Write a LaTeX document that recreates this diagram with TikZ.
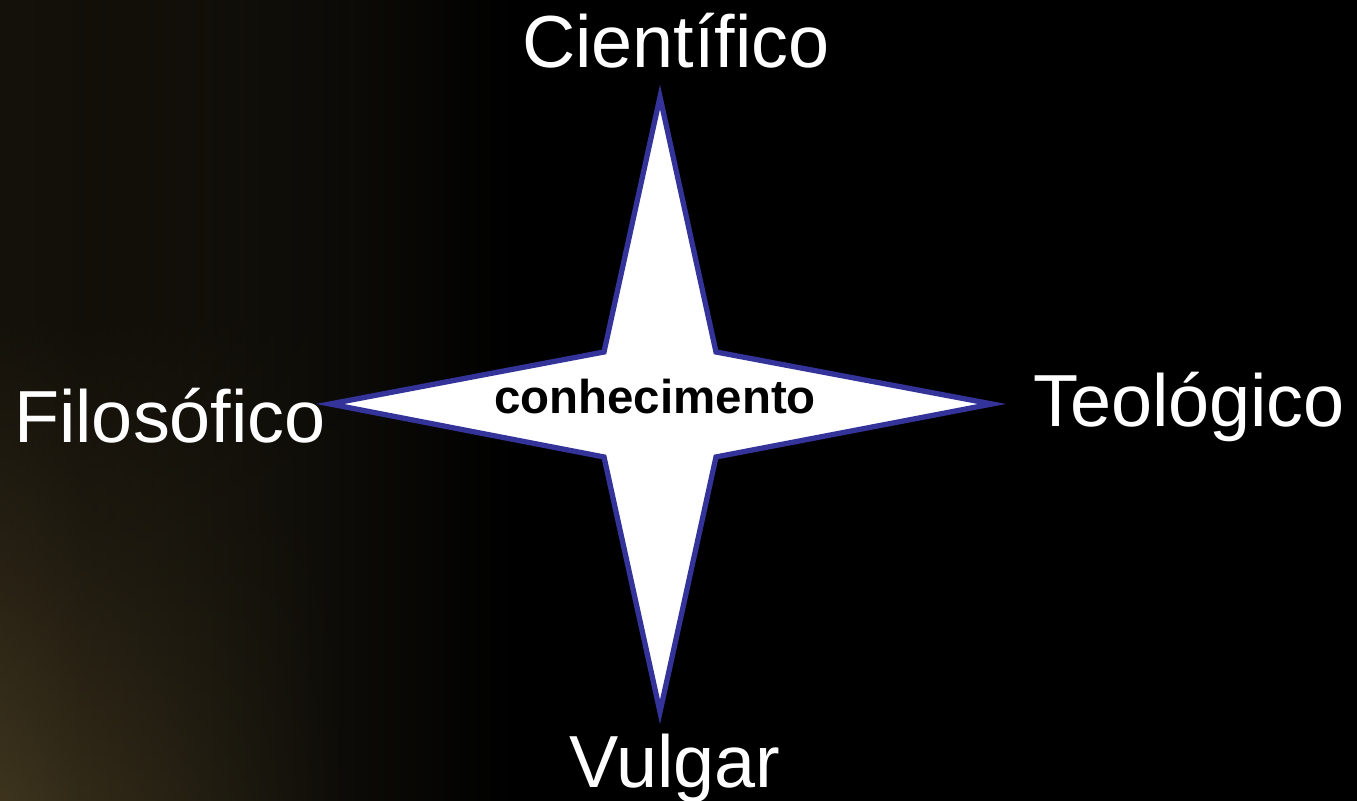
\documentclass[tikz,border=0pt]{standalone}
\usepackage{fontspec}
\setmainfont{Liberation Sans}
\usepackage{tikz}
\usetikzlibrary{calc}
\usetikzlibrary{fadings}
\definecolor{estrela}{RGB}{51,51,153}
\pgfdeclarehorizontalshading{fundo}{100bp}{rgb(0bp)=(0.20,0.17,0.10); rgb(25bp)=(0.20,0.17,0.10); rgb(28bp)=(0.13,0.11,0.065); rgb(36bp)=(0.06,0.055,0.035); rgb(44bp)=(0,0,0); rgb(100bp)=(0,0,0)}
\pgfdeclareverticalshading{fundob}{100bp}{rgb(0bp)=(0.27,0.23,0.13); rgb(25bp)=(0.27,0.23,0.13); rgb(40bp)=(0.12,0.10,0.06); rgb(55bp)=(0,0,0); rgb(100bp)=(0,0,0)}

\begin{document}
\begin{tikzpicture}
\tikzset{rotulo/.style={text=white,font=\fontsize{21}{25}\selectfont,anchor=base,inner sep=0pt}}

% Fundo
\useasboundingbox (0,0) rectangle (13.57,8.01);
\fill[black] (0,0) rectangle (13.57,8.01);
\shade[shading=fundo] (0,0) rectangle (13.57,8.01);
\shade[shading=fundob,path fading=east,opacity=0.6] (0,0) rectangle (3.5,8.01);

% Estrela
\coordinate (t) at (6.60,7.04);
\coordinate (r) at (9.92,3.97);
\coordinate (b) at (6.60,0.89);
\coordinate (l) at (3.30,3.97);
\draw[estrela,line width=1.5pt,fill=white,line join=miter]
(t) -- (7.16,4.49) -- (r) -- (7.16,3.44) -- (b) -- (6.04,3.44) -- (l) -- (6.04,4.49) -- cycle;

% Rotulos
\node (c) at (6.55,3.87) [anchor=base,inner sep=0pt,font=\fontsize{13.5}{16}\selectfont\bfseries] {conhecimento};
\node (1) at (6.76,7.33) [rotulo] {Científico};
\node (2) at (1.70,3.58) [rotulo] {Filosófico};
\node (3) at (11.89,3.74) [rotulo] {Teológico};
\node (4) at (6.75,0.13) [rotulo] {Vulgar};

\end{tikzpicture}
\end{document}
